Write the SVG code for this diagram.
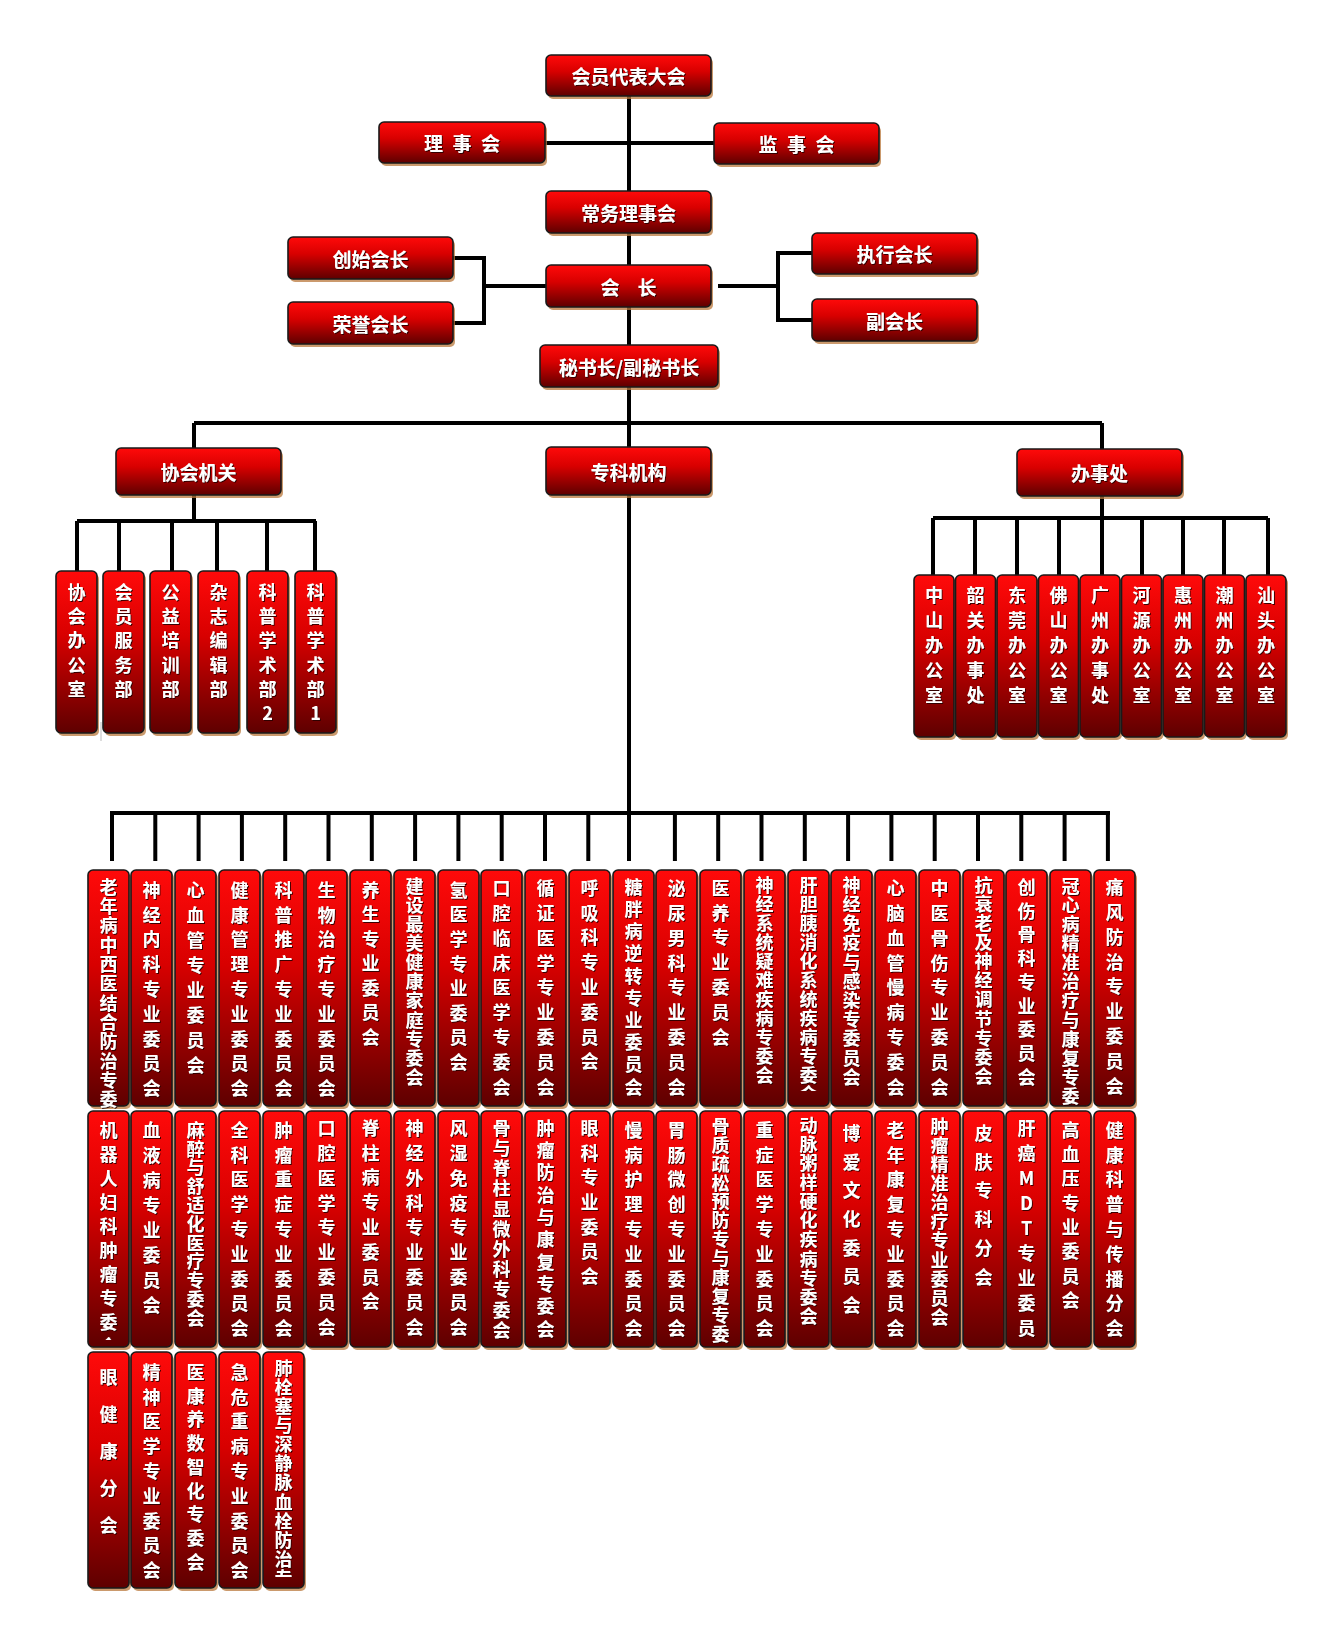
<svg xmlns="http://www.w3.org/2000/svg" width="1331" height="1639" viewBox="0 0 1331 1639">
<defs>
<linearGradient id="rg" x1="0" y1="0" x2="0" y2="1">
<stop offset="0" stop-color="#ff0a0a"/>
<stop offset="0.4" stop-color="#d80000"/>
<stop offset="1" stop-color="#5e0000"/>
</linearGradient>
<filter id="ts" x="-30%" y="-10%" width="160%" height="120%">
<feDropShadow dx="1" dy="1" stdDeviation="0.4" flood-color="#250000" flood-opacity="0.9"/>
</filter>
<clipPath id="cpA"><rect x="788" y="870" width="41" height="221"/></clipPath>
<clipPath id="cpB"><rect x="88" y="1111" width="41" height="229"/></clipPath>
<clipPath id="cpC"><rect x="263" y="1352" width="41" height="225"/></clipPath>
</defs>
<style>
.bx{fill:url(#rg);stroke:#1a1a1a;stroke-width:1.6}
.sh{fill:#b9783c;opacity:.75}
text{font-family:"Noto Sans CJK SC","Liberation Sans",sans-serif;font-weight:700;fill:#fff;filter:url(#ts)}
.h{font-size:19px;text-anchor:middle;dominant-baseline:central}
.v{font-size:18px;writing-mode:vertical-rl;text-orientation:upright}
.cn path{fill:none;stroke:#000;stroke-width:4}
.art{stroke:#bbb;stroke-width:1}
</style>
<rect width="1331" height="1639" fill="#fff"/>

<g id="connectors" class="cn">
<path d="M629 96V191M545 143H714M629 233V265M629 307V345M453 258H484V323H453M484 286H546M718 286H778M812 253H778V320H812M629 387V447M194 423H1102M194 423V448M1102 423V449M629 495V861M110 813H1110"/>
<path d="M194 495V521M77 521H316M77 521V571M119 521V571M172 521V571M217 521V571M267 521V571M315 521V571"/>
<path d="M1102 496V518M933 518H1268M933 518V575M975 518V575M1017 518V575M1059 518V575M1102 518V575M1142 518V575M1183 518V575M1224 518V575M1268 518V575"/>
<path d="M112 813V861M155.3 813V861M198.6 813V861M241.9 813V861M285.2 813V861M328.5 813V861M371.8 813V861M415.1 813V861M458.4 813V861M501.7 813V861M545 813V861M588.3 813V861M674.9 813V861M718.2 813V861M761.5 813V861M804.8 813V861M848.1 813V861M891.4 813V861M934.7 813V861M978 813V861M1021.3 813V861M1064.6 813V861M1107.9 813V861"/>
</g>
<line class="art" x1="101" y1="722" x2="101" y2="741"/>

<!-- top level -->
<g id="n-congress"><rect class="sh" x="548" y="58" width="165" height="41" rx="5"/><rect class="bx" x="546" y="55" width="165" height="41" rx="5"/><text class="h" x="628.5" y="75.5">会员代表大会</text></g>
<g id="n-council"><rect class="sh" x="381" y="125" width="166" height="41" rx="5"/><rect class="bx" x="379" y="122" width="166" height="41" rx="5"/><text class="h" x="463.3" y="142.5" letter-spacing="2.6">理 事 会</text></g>
<g id="n-supervisory"><rect class="sh" x="716" y="126" width="165" height="41" rx="5"/><rect class="bx" x="714" y="123" width="165" height="41" rx="5"/><text class="h" x="797.8" y="143.5" letter-spacing="2.6">监 事 会</text></g>
<g id="n-standing"><rect class="sh" x="548" y="194" width="165" height="42" rx="5"/><rect class="bx" x="546" y="191" width="165" height="42" rx="5"/><text class="h" x="628.5" y="212">常务理事会</text></g>
<g id="n-founder"><rect class="sh" x="290" y="240" width="165" height="42" rx="5"/><rect class="bx" x="288" y="237" width="165" height="42" rx="5"/><text class="h" x="370.5" y="258">创始会长</text></g>
<g id="n-honorary"><rect class="sh" x="290" y="305" width="165" height="42" rx="5"/><rect class="bx" x="288" y="302" width="165" height="42" rx="5"/><text class="h" x="370.5" y="323">荣誉会长</text></g>
<g id="n-president"><rect class="sh" x="548" y="268" width="165" height="42" rx="5"/><rect class="bx" x="546" y="265" width="165" height="42" rx="5"/><text class="h" x="631.9" y="286" letter-spacing="6.8">会 长</text></g>
<g id="n-executive"><rect class="sh" x="814" y="236" width="165" height="41" rx="5"/><rect class="bx" x="812" y="233" width="165" height="41" rx="5"/><text class="h" x="894.5" y="253.5">执行会长</text></g>
<g id="n-vice"><rect class="sh" x="814" y="302" width="165" height="42" rx="5"/><rect class="bx" x="812" y="299" width="165" height="42" rx="5"/><text class="h" x="894.5" y="320">副会长</text></g>
<g id="n-secretary"><rect class="sh" x="542" y="348" width="178" height="42" rx="5"/><rect class="bx" x="540" y="345" width="178" height="42" rx="5"/><text class="h" x="629" y="366">秘书长/副秘书长</text></g>
<g id="n-organs"><rect class="sh" x="118" y="451" width="165" height="47" rx="5"/><rect class="bx" x="116" y="448" width="165" height="47" rx="5"/><text class="h" x="198.5" y="471.5">协会机关</text></g>
<g id="n-specialty"><rect class="sh" x="548" y="450" width="165" height="48" rx="5"/><rect class="bx" x="546" y="447" width="165" height="48" rx="5"/><text class="h" x="628.5" y="471">专科机构</text></g>
<g id="n-offices"><rect class="sh" x="1019" y="452" width="165" height="47" rx="5"/><rect class="bx" x="1017" y="449" width="165" height="47" rx="5"/><text class="h" x="1099.5" y="472.5">办事处</text></g>

<!-- 协会机关 children -->
<g id="o1"><rect class="sh" x="58" y="574" width="41" height="162" rx="5"/><rect class="bx" x="56" y="571" width="41" height="162" rx="5"/><text class="v" x="76.5" y="583" letter-spacing="6.3">协会办公室</text></g>
<g id="o2"><rect class="sh" x="105" y="574" width="41" height="162" rx="5"/><rect class="bx" x="103" y="571" width="41" height="162" rx="5"/><text class="v" x="123.5" y="583" letter-spacing="6.3">会员服务部</text></g>
<g id="o3"><rect class="sh" x="152" y="574" width="41" height="162" rx="5"/><rect class="bx" x="150" y="571" width="41" height="162" rx="5"/><text class="v" x="170.5" y="583" letter-spacing="6.3">公益培训部</text></g>
<g id="o4"><rect class="sh" x="200" y="574" width="41" height="162" rx="5"/><rect class="bx" x="198" y="571" width="41" height="162" rx="5"/><text class="v" x="218.5" y="583" letter-spacing="6.3">杂志编辑部</text></g>
<g id="o5"><rect class="sh" x="249" y="574" width="41" height="162" rx="5"/><rect class="bx" x="247" y="571" width="41" height="162" rx="5"/><text class="v" x="267.5" y="583" letter-spacing="6.3">科普学术部2</text></g>
<g id="o6"><rect class="sh" x="297" y="574" width="41" height="162" rx="5"/><rect class="bx" x="295" y="571" width="41" height="162" rx="5"/><text class="v" x="315.5" y="583" letter-spacing="6.3">科普学术部1</text></g>

<!-- 办事处 children -->
<g id="b1"><rect class="sh" x="916" y="578" width="40" height="162" rx="5"/><rect class="bx" x="914" y="575" width="40" height="162" rx="5"/><text class="v" x="934" y="586" letter-spacing="7">中山办公室</text></g>
<g id="b2"><rect class="sh" x="957.5" y="578" width="40" height="162" rx="5"/><rect class="bx" x="955.5" y="575" width="40" height="162" rx="5"/><text class="v" x="975.5" y="586" letter-spacing="7">韶关办事处</text></g>
<g id="b3"><rect class="sh" x="999" y="578" width="40" height="162" rx="5"/><rect class="bx" x="997" y="575" width="40" height="162" rx="5"/><text class="v" x="1017" y="586" letter-spacing="7">东莞办公室</text></g>
<g id="b4"><rect class="sh" x="1040.5" y="578" width="40" height="162" rx="5"/><rect class="bx" x="1038.5" y="575" width="40" height="162" rx="5"/><text class="v" x="1058.5" y="586" letter-spacing="7">佛山办公室</text></g>
<g id="b5"><rect class="sh" x="1082" y="578" width="40" height="162" rx="5"/><rect class="bx" x="1080" y="575" width="40" height="162" rx="5"/><text class="v" x="1100" y="586" letter-spacing="7">广州办事处</text></g>
<g id="b6"><rect class="sh" x="1123.5" y="578" width="40" height="162" rx="5"/><rect class="bx" x="1121.5" y="575" width="40" height="162" rx="5"/><text class="v" x="1141.5" y="586" letter-spacing="7">河源办公室</text></g>
<g id="b7"><rect class="sh" x="1165" y="578" width="40" height="162" rx="5"/><rect class="bx" x="1163" y="575" width="40" height="162" rx="5"/><text class="v" x="1183" y="586" letter-spacing="7">惠州办公室</text></g>
<g id="b8"><rect class="sh" x="1206.5" y="578" width="40" height="162" rx="5"/><rect class="bx" x="1204.5" y="575" width="40" height="162" rx="5"/><text class="v" x="1224.5" y="586" letter-spacing="7">潮州办公室</text></g>
<g id="b9"><rect class="sh" x="1248" y="578" width="40" height="162" rx="5"/><rect class="bx" x="1246" y="575" width="40" height="162" rx="5"/><text class="v" x="1266" y="586" letter-spacing="7">汕头办公室</text></g>

<!-- specialty row 1 -->
<g id="s1-01"><rect class="sh" x="90" y="873" width="41" height="236" rx="5"/><rect class="bx" x="88" y="870" width="41" height="236" rx="5"/><text class="v" x="108.5" y="878" font-size="16" letter-spacing="1.3">老年病中西医结合防治专委会</text></g>
<g id="s1-02"><rect class="sh" x="133" y="873" width="41" height="236" rx="5"/><rect class="bx" x="131" y="870" width="41" height="236" rx="5"/><text class="v" x="151.5" y="881" letter-spacing="6.8">神经内科专业委员会</text></g>
<g id="s1-03"><rect class="sh" x="177" y="873" width="41" height="236" rx="5"/><rect class="bx" x="175" y="870" width="41" height="236" rx="5"/><text class="v" x="195.5" y="881" letter-spacing="7">心血管专业委员会</text></g>
<g id="s1-04"><rect class="sh" x="221" y="873" width="41" height="236" rx="5"/><rect class="bx" x="219" y="870" width="41" height="236" rx="5"/><text class="v" x="239.5" y="881" letter-spacing="6.8">健康管理专业委员会</text></g>
<g id="s1-05"><rect class="sh" x="265" y="873" width="41" height="236" rx="5"/><rect class="bx" x="263" y="870" width="41" height="236" rx="5"/><text class="v" x="283.5" y="881" letter-spacing="6.8">科普推广专业委员会</text></g>
<g id="s1-06"><rect class="sh" x="308" y="873" width="41" height="236" rx="5"/><rect class="bx" x="306" y="870" width="41" height="236" rx="5"/><text class="v" x="326.5" y="881" letter-spacing="6.8">生物治疗专业委员会</text></g>
<g id="s1-07"><rect class="sh" x="352" y="873" width="41" height="236" rx="5"/><rect class="bx" x="350" y="870" width="41" height="236" rx="5"/><text class="v" x="370.5" y="881" letter-spacing="6.5">养生专业委员会</text></g>
<g id="s1-08"><rect class="sh" x="396" y="873" width="41" height="236" rx="5"/><rect class="bx" x="394" y="870" width="41" height="236" rx="5"/><text class="v" x="414.5" y="877" letter-spacing="1.1">建设最美健康家庭专委会</text></g>
<g id="s1-09"><rect class="sh" x="440" y="873" width="41" height="236" rx="5"/><rect class="bx" x="438" y="870" width="41" height="236" rx="5"/><text class="v" x="458.5" y="881" letter-spacing="6.6">氢医学专业委员会</text></g>
<g id="s1-10"><rect class="sh" x="483" y="873" width="41" height="236" rx="5"/><rect class="bx" x="481" y="870" width="41" height="236" rx="5"/><text class="v" x="501.5" y="879" letter-spacing="6.9">口腔临床医学专委会</text></g>
<g id="s1-11"><rect class="sh" x="527" y="873" width="41" height="236" rx="5"/><rect class="bx" x="525" y="870" width="41" height="236" rx="5"/><text class="v" x="545.5" y="879" letter-spacing="6.9">循证医学专业委员会</text></g>
<g id="s1-12"><rect class="sh" x="571" y="873" width="41" height="236" rx="5"/><rect class="bx" x="569" y="870" width="41" height="236" rx="5"/><text class="v" x="589.5" y="879" letter-spacing="6.8">呼吸科专业委员会</text></g>
<g id="s1-13"><rect class="sh" x="615" y="873" width="41" height="236" rx="5"/><rect class="bx" x="613" y="870" width="41" height="236" rx="5"/><text class="v" x="633.5" y="878" letter-spacing="4.2">糖胖病逆转专业委员会</text></g>
<g id="s1-14"><rect class="sh" x="658" y="873" width="41" height="236" rx="5"/><rect class="bx" x="656" y="870" width="41" height="236" rx="5"/><text class="v" x="676.5" y="879" letter-spacing="6.9">泌尿男科专业委员会</text></g>
<g id="s1-15"><rect class="sh" x="702" y="873" width="41" height="236" rx="5"/><rect class="bx" x="700" y="870" width="41" height="236" rx="5"/><text class="v" x="720.5" y="879" letter-spacing="6.8">医养专业委员会</text></g>
<g id="s1-16"><rect class="sh" x="746" y="873" width="41" height="236" rx="5"/><rect class="bx" x="744" y="870" width="41" height="236" rx="5"/><text class="v" x="764.5" y="876" letter-spacing="1">神经系统疑难疾病专委会</text></g>
<g id="s1-17"><rect class="sh" x="790" y="873" width="41" height="236" rx="5"/><rect class="bx" x="788" y="870" width="41" height="236" rx="5"/><text class="v" x="808.5" y="876" font-size="17.5" letter-spacing="1" clip-path="url(#cpA)">肝胆胰消化系统疾病专委会</text></g>
<g id="s1-18"><rect class="sh" x="833" y="873" width="41" height="236" rx="5"/><rect class="bx" x="831" y="870" width="41" height="236" rx="5"/><text class="v" x="851.5" y="876" letter-spacing="1.2">神经免疫与感染专委员会</text></g>
<g id="s1-19"><rect class="sh" x="877" y="873" width="41" height="236" rx="5"/><rect class="bx" x="875" y="870" width="41" height="236" rx="5"/><text class="v" x="895.5" y="879" letter-spacing="6.9">心脑血管慢病专委会</text></g>
<g id="s1-20"><rect class="sh" x="921" y="873" width="41" height="236" rx="5"/><rect class="bx" x="919" y="870" width="41" height="236" rx="5"/><text class="v" x="939.5" y="879" letter-spacing="6.9">中医骨伤专业委员会</text></g>
<g id="s1-21"><rect class="sh" x="965" y="873" width="41" height="236" rx="5"/><rect class="bx" x="963" y="870" width="41" height="236" rx="5"/><text class="v" x="983.5" y="876" letter-spacing="1.1">抗衰老及神经调节专委会</text></g>
<g id="s1-22"><rect class="sh" x="1008" y="873" width="41" height="236" rx="5"/><rect class="bx" x="1006" y="870" width="41" height="236" rx="5"/><text class="v" x="1026.5" y="878" letter-spacing="5.75">创伤骨科专业委员会</text></g>
<g id="s1-23"><rect class="sh" x="1052" y="873" width="41" height="236" rx="5"/><rect class="bx" x="1050" y="870" width="41" height="236" rx="5"/><text class="v" x="1070.5" y="877" font-size="16" letter-spacing="1.1">冠心病精准治疗与康复专委</text></g>
<g id="s1-24"><rect class="sh" x="1096" y="873" width="41" height="236" rx="5"/><rect class="bx" x="1094" y="870" width="41" height="236" rx="5"/><text class="v" x="1114.5" y="878" letter-spacing="6.9">痛风防治专业委员会</text></g>

<!-- specialty row 2 -->
<g id="s2-01"><rect class="sh" x="90" y="1114" width="41" height="236" rx="5"/><rect class="bx" x="88" y="1111" width="41" height="236" rx="5"/><text class="v" x="108.5" y="1121" letter-spacing="6" clip-path="url(#cpB)">机器人妇科肿瘤专委会</text></g>
<g id="s2-02"><rect class="sh" x="133" y="1114" width="41" height="236" rx="5"/><rect class="bx" x="131" y="1111" width="41" height="236" rx="5"/><text class="v" x="151.5" y="1121" letter-spacing="7">血液病专业委员会</text></g>
<g id="s2-03"><rect class="sh" x="177" y="1114" width="41" height="236" rx="5"/><rect class="bx" x="175" y="1111" width="41" height="236" rx="5"/><text class="v" x="195.5" y="1121" letter-spacing="0.8">麻醉与舒适化医疗专委会</text></g>
<g id="s2-04"><rect class="sh" x="221" y="1114" width="41" height="236" rx="5"/><rect class="bx" x="219" y="1111" width="41" height="236" rx="5"/><text class="v" x="239.5" y="1121" letter-spacing="6.8">全科医学专业委员会</text></g>
<g id="s2-05"><rect class="sh" x="265" y="1114" width="41" height="236" rx="5"/><rect class="bx" x="263" y="1111" width="41" height="236" rx="5"/><text class="v" x="283.5" y="1121" letter-spacing="6.8">肿瘤重症专业委员会</text></g>
<g id="s2-06"><rect class="sh" x="308" y="1114" width="41" height="236" rx="5"/><rect class="bx" x="306" y="1111" width="41" height="236" rx="5"/><text class="v" x="326.5" y="1119" letter-spacing="6.9">口腔医学专业委员会</text></g>
<g id="s2-07"><rect class="sh" x="352" y="1114" width="41" height="236" rx="5"/><rect class="bx" x="350" y="1111" width="41" height="236" rx="5"/><text class="v" x="370.5" y="1119" letter-spacing="6.8">脊柱病专业委员会</text></g>
<g id="s2-08"><rect class="sh" x="396" y="1114" width="41" height="236" rx="5"/><rect class="bx" x="394" y="1111" width="41" height="236" rx="5"/><text class="v" x="414.5" y="1119" letter-spacing="6.9">神经外科专业委员会</text></g>
<g id="s2-09"><rect class="sh" x="440" y="1114" width="41" height="236" rx="5"/><rect class="bx" x="438" y="1111" width="41" height="236" rx="5"/><text class="v" x="458.5" y="1119" letter-spacing="6.9">风湿免疫专业委员会</text></g>
<g id="s2-10"><rect class="sh" x="483" y="1114" width="41" height="236" rx="5"/><rect class="bx" x="481" y="1111" width="41" height="236" rx="5"/><text class="v" x="501.5" y="1119" letter-spacing="2.2">骨与脊柱显微外科专委会</text></g>
<g id="s2-11"><rect class="sh" x="527" y="1114" width="41" height="236" rx="5"/><rect class="bx" x="525" y="1111" width="41" height="236" rx="5"/><text class="v" x="545.5" y="1119" letter-spacing="4.3">肿瘤防治与康复专委会</text></g>
<g id="s2-12"><rect class="sh" x="571" y="1114" width="41" height="236" rx="5"/><rect class="bx" x="569" y="1111" width="41" height="236" rx="5"/><text class="v" x="589.5" y="1119" letter-spacing="6.7">眼科专业委员会</text></g>
<g id="s2-13"><rect class="sh" x="615" y="1114" width="41" height="236" rx="5"/><rect class="bx" x="613" y="1111" width="41" height="236" rx="5"/><text class="v" x="633.5" y="1121" letter-spacing="6.8">慢病护理专业委员会</text></g>
<g id="s2-14"><rect class="sh" x="658" y="1114" width="41" height="236" rx="5"/><rect class="bx" x="656" y="1111" width="41" height="236" rx="5"/><text class="v" x="676.5" y="1121" letter-spacing="6.8">胃肠微创专业委员会</text></g>
<g id="s2-15"><rect class="sh" x="702" y="1114" width="41" height="236" rx="5"/><rect class="bx" x="700" y="1111" width="41" height="236" rx="5"/><text class="v" x="720.5" y="1117" font-size="16.5" letter-spacing="0.9">骨质疏松预防专与康复专委</text></g>
<g id="s2-16"><rect class="sh" x="746" y="1114" width="41" height="236" rx="5"/><rect class="bx" x="744" y="1111" width="41" height="236" rx="5"/><text class="v" x="764.5" y="1121" letter-spacing="6.8">重症医学专业委员会</text></g>
<g id="s2-17"><rect class="sh" x="790" y="1114" width="41" height="236" rx="5"/><rect class="bx" x="788" y="1111" width="41" height="236" rx="5"/><text class="v" x="808.5" y="1116" letter-spacing="1.1">动脉粥样硬化疾病专委会</text></g>
<g id="s2-18"><rect class="sh" x="833" y="1114" width="41" height="236" rx="5"/><rect class="bx" x="831" y="1111" width="41" height="236" rx="5"/><text class="v" x="851.5" y="1124" letter-spacing="10.7">博爱文化委员会</text></g>
<g id="s2-19"><rect class="sh" x="877" y="1114" width="41" height="236" rx="5"/><rect class="bx" x="875" y="1111" width="41" height="236" rx="5"/><text class="v" x="895.5" y="1121" letter-spacing="6.8">老年康复专业委员会</text></g>
<g id="s2-20"><rect class="sh" x="921" y="1114" width="41" height="236" rx="5"/><rect class="bx" x="919" y="1111" width="41" height="236" rx="5"/><text class="v" x="939.5" y="1117" letter-spacing="1.1">肿瘤精准治疗专业委员会</text></g>
<g id="s2-21"><rect class="sh" x="965" y="1114" width="41" height="236" rx="5"/><rect class="bx" x="963" y="1111" width="41" height="236" rx="5"/><text class="v" x="983.5" y="1124" letter-spacing="10.8">皮肤专科分会</text></g>
<g id="s2-22"><rect class="sh" x="1008" y="1114" width="41" height="236" rx="5"/><rect class="bx" x="1006" y="1111" width="41" height="236" rx="5"/><text class="v" x="1026.5" y="1119" letter-spacing="7">肝癌MDT专业委员</text></g>
<g id="s2-23"><rect class="sh" x="1052" y="1114" width="41" height="236" rx="5"/><rect class="bx" x="1050" y="1111" width="41" height="236" rx="5"/><text class="v" x="1070.5" y="1121" letter-spacing="6.3">高血压专业委员会</text></g>
<g id="s2-24"><rect class="sh" x="1096" y="1114" width="41" height="236" rx="5"/><rect class="bx" x="1094" y="1111" width="41" height="236" rx="5"/><text class="v" x="1114.5" y="1121" letter-spacing="6.8">健康科普与传播分会</text></g>

<!-- specialty row 3 -->
<g id="s3-01"><rect class="sh" x="90" y="1355" width="41" height="236" rx="5"/><rect class="bx" x="88" y="1352" width="41" height="236" rx="5"/><text class="v" x="108.5" y="1368" letter-spacing="19">眼健康分会</text></g>
<g id="s3-02"><rect class="sh" x="133" y="1355" width="41" height="236" rx="5"/><rect class="bx" x="131" y="1352" width="41" height="236" rx="5"/><text class="v" x="151.5" y="1363" letter-spacing="6.8">精神医学专业委员会</text></g>
<g id="s3-03"><rect class="sh" x="177" y="1355" width="41" height="236" rx="5"/><rect class="bx" x="175" y="1352" width="41" height="236" rx="5"/><text class="v" x="195.5" y="1363" letter-spacing="5.75">医康养数智化专委会</text></g>
<g id="s3-04"><rect class="sh" x="221" y="1355" width="41" height="236" rx="5"/><rect class="bx" x="219" y="1352" width="41" height="236" rx="5"/><text class="v" x="239.5" y="1363" letter-spacing="6.8">急危重病专业委员会</text></g>
<g id="s3-05"><rect class="sh" x="265" y="1355" width="41" height="236" rx="5"/><rect class="bx" x="263" y="1352" width="41" height="236" rx="5"/><text class="v" x="283.5" y="1359" font-size="17.5" letter-spacing="1.1" clip-path="url(#cpC)">肺栓塞与深静脉血栓防治专</text></g>
</svg>
